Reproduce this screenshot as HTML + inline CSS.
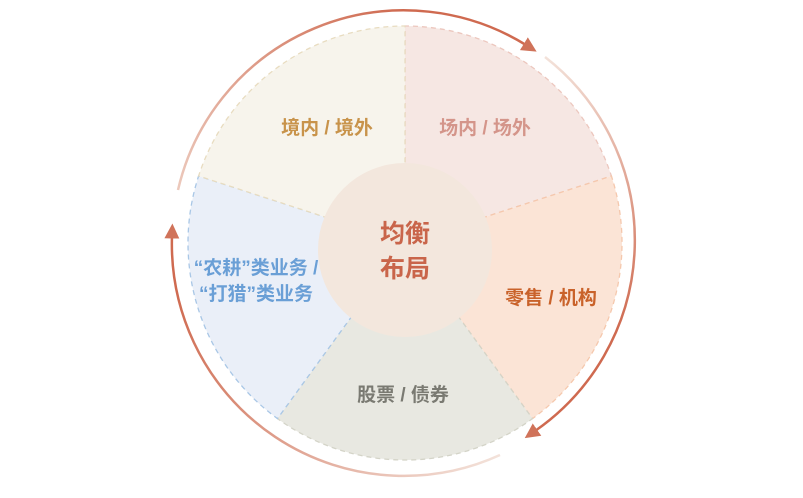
<!DOCTYPE html>
<html><head><meta charset="utf-8"><style>
html,body{margin:0;padding:0;background:#fff;}
svg{display:block;}
text{font-family:"Liberation Sans","Noto Sans CJK SC",sans-serif;font-weight:bold;}
</style></head><body>
<svg width="803" height="498" viewBox="0 0 803 498" xmlns="http://www.w3.org/2000/svg">
<defs>
<marker id="ah" markerWidth="6" markerHeight="6" refX="1" refY="3" orient="auto" markerUnits="strokeWidth">
<path d="M0,0 L6,3 L0,6 Z" fill="#d0735a"/>
</marker>
<linearGradient id="g1" gradientUnits="userSpaceOnUse" x1="178" y1="190" x2="405" y2="12"><stop offset="0" stop-color="#ecc9bc"/><stop offset="1" stop-color="#cf6a50"/></linearGradient>
<linearGradient id="g2" gradientUnits="userSpaceOnUse" x1="545" y1="57" x2="620" y2="330"><stop offset="0" stop-color="#f3e2da"/><stop offset="1" stop-color="#cf6a50"/></linearGradient>
<linearGradient id="g3" gradientUnits="userSpaceOnUse" x1="500" y1="455" x2="175" y2="290"><stop offset="0" stop-color="#f3e2da"/><stop offset="1" stop-color="#cf6a50"/></linearGradient>
</defs>
<g stroke-width="1.3" stroke-dasharray="5,4">
<path d="M405,243 L405,26 A217,217 0 0 1 611.4,176 Z" fill="#f6e7e3" stroke="#ecc7be"/>
<path d="M405,243 L611.4,176 A217,217 0 0 1 532.5,418.6 Z" fill="#fbe4d6" stroke="#f5c8ad"/>
<path d="M405,243 L532.5,418.6 A217,217 0 0 1 277.5,418.6 Z" fill="#e8e8e1" stroke="#d4d4c8"/>
<path d="M405,243 L277.5,418.6 A217,217 0 0 1 198.6,176 Z" fill="#eaeff8" stroke="#a9c7e6"/>
<path d="M405,243 L198.6,176 A217,217 0 0 1 405,26 Z" fill="#f7f4ec" stroke="#e8dcc0"/>
</g>
<circle cx="405" cy="250" r="87" fill="#f3e7dd"/>
<path d="M178,190 A232,232 0 0 1 526,45" fill="none" stroke="url(#g1)" stroke-width="2.5" marker-end="url(#ah)"/>
<path d="M545,57 A232,232 0 0 1 535,431" fill="none" stroke="url(#g2)" stroke-width="2.5" marker-end="url(#ah)"/>
<path d="M500,455 A232,232 0 0 1 172,236" fill="none" stroke="url(#g3)" stroke-width="2.5" marker-end="url(#ah)"/>
<text x="327" y="134" font-size="19" fill="#c8934a" text-anchor="middle">境内 / 境外</text>
<text x="485" y="134" font-size="19" fill="#d4958a" text-anchor="middle">场内 / 场外</text>
<text x="551" y="304" font-size="19" fill="#c9622a" text-anchor="middle">零售 / 机构</text>
<text x="403" y="401" font-size="19" fill="#7a7a72" text-anchor="middle">股票 / 债券</text>
<text x="256" y="274" font-size="19" fill="#6a9fd6" text-anchor="middle">“农耕”类业务 /</text>
<text x="256" y="300" font-size="19" fill="#6a9fd6" text-anchor="middle">“打猎”类业务</text>
<text x="405" y="242" font-size="25" fill="#c9654a" text-anchor="middle">均衡</text>
<text x="405" y="277" font-size="25" fill="#c9654a" text-anchor="middle">布局</text>
</svg>
</body></html>
